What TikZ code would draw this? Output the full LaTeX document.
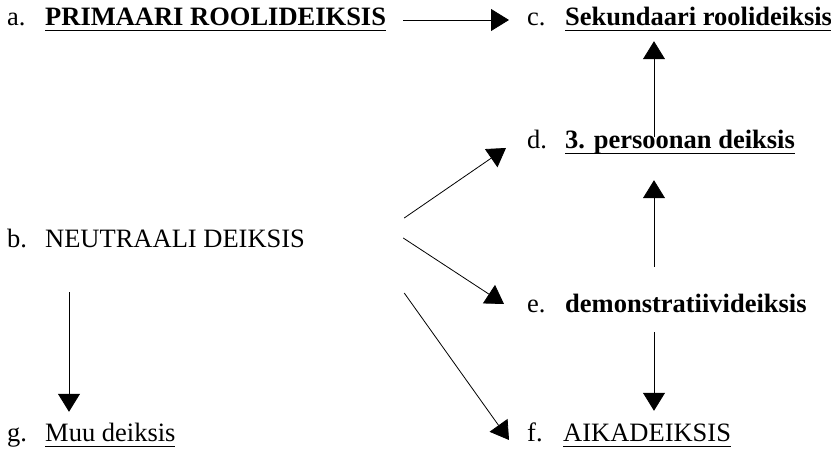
\documentclass[tikz,border=0pt]{standalone}
\usepackage{fontspec}
\setmainfont{Liberation Serif}
\usetikzlibrary{arrows.meta,positioning}
\newcommand{\undl}[1]{\setbox0\hbox{#1}\rlap{\rule[-5pt]{\wd0}{1.2pt}}\box0}
\tikzset{>={Triangle[length=18pt,width=22pt]},
lab/.style={anchor=base west,inner sep=0pt,text height=19pt,text depth=7pt,font=\fontsize{26.5}{30}\selectfont}, % one line of text, label + term
arr/.style={->,line width=0.8pt}
}
\begin{document}
\begin{tikzpicture}[x=1pt,y=1pt]
    \useasboundingbox (0,0) rectangle (831,450);
    \node[lab] (a) at (7,424) {\makebox[38pt][l]{a.}\undl{\textbf{PRIMAARI ROOLIDEIKSIS}}};
    \node[lab] (c) at (527,424) {\makebox[38pt][l]{c.}\undl{\textbf{Sekundaari roolideiksis}}};
    \node[lab] (d) at (527,301) {\makebox[38pt][l]{d.}\undl{\textbf{3. persoonan deiksis}}};
    \node[lab] (b) at (7,202) {\makebox[38pt][l]{b.}NEUTRAALI DEIKSIS};
    \node[lab] (e) at (527,137) {\makebox[38pt][l]{e.}\textbf{demonstratiivideiksis}};
    \node[lab] (g) at (7,8) {\makebox[38pt][l]{g.}\undl{Muu deiksis}};
    \node[lab] (f) at (527,8) {\makebox[36pt][l]{f.}\undl{AIKADEIKSIS}};
    \coordinate (lcol) at (69,0);
    \coordinate (rcol) at (654,0);

    \draw[arr,shorten <=17pt,shorten >=18pt] ([yshift=6pt]a.base east) -- ([yshift=6pt]c.base west);
    \draw[arr,shorten <=-7pt,shorten >=8pt] (d.north -| rcol) -- (c.south -| rcol);
    \draw[arr,shorten <=27pt,shorten >=24pt] (e.north -| rcol) -- (d.south -| rcol);
    \draw[arr,shorten <=12pt,shorten >=12pt] (e.south -| rcol) -- (f.north -| rcol);
    \draw[arr,shorten <=37pt,shorten >=11pt] (b.south -| lcol) -- (g.north -| lcol);
    % fan from b
    \draw[arr] ([xshift=99pt,yshift=30pt]b.base east) -- ([xshift=-21pt,yshift=1pt]d.base west);
    \draw[arr] ([xshift=98pt,yshift=10pt]b.base east) -- ([xshift=-23pt,yshift=9pt]e.base west);
    \draw[arr] ([xshift=99pt,yshift=-45pt]b.base east) -- ([xshift=-18pt,yshift=2pt]f.base west);
\end{tikzpicture}
\end{document}
